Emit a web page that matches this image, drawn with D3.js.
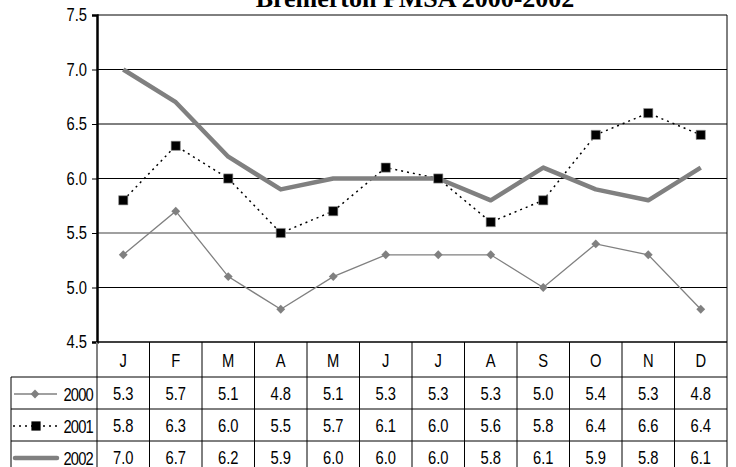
<!DOCTYPE html>
<html>
<head>
<meta charset="utf-8">
<script src="https://cdn.jsdelivr.net/npm/d3@7"></script>
<style>
  body { margin: 0; background: #fff; }
  svg { display: block; }
  text { font-family: "Liberation Sans", Arial, sans-serif; }
</style>
</head>
<body>
<div id="chart"></div>
<script>
const months = ['J', 'F', 'M', 'A', 'M', 'J', 'J', 'A', 'S', 'O', 'N', 'D'];
const s2000 = [5.3, 5.7, 5.1, 4.8, 5.1, 5.3, 5.3, 5.3, 5.0, 5.4, 5.3, 4.8];
const s2001 = [5.8, 6.3, 6.0, 5.5, 5.7, 6.1, 6.0, 5.6, 5.8, 6.4, 6.6, 6.4];
const s2002 = [7.0, 6.7, 6.2, 5.9, 6.0, 6.0, 6.0, 5.8, 6.1, 5.9, 5.8, 6.1];
const yTicks = [4.5, 5.0, 5.5, 6.0, 6.5, 7.0, 7.5];
const seriesNames = ['2000', '2001', '2002'];

const width = 736;
const height = 467;
const plotLeft = 97, plotRight = 727, plotTop = 15, plotBottom = 342;
const legendLeft = 11;
const headerH = 35, rowH = 32;
const narrow = 0.82; // no condensed font installed, squeeze text horizontally

const svg = d3.select('#chart').append('svg')
  .attr('width', width)
  .attr('height', height);

const x = d3.scaleBand()
  .domain(d3.range(months.length))
  .range([plotLeft, plotRight]);

const y = d3.scaleLinear()
  .domain([4.5, 7.5])
  .range([plotBottom, plotTop]);

const cx = i => x(i) + x.bandwidth() / 2;

// narrow text helper
function narrowText(g, tx, ty, str, anchor) {
  return g.append('text')
    .attr('transform', `translate(${tx},${ty}) scale(${narrow},1)`)
    .attr('text-anchor', anchor || 'middle')
    .style('font-size', '18px')
    .attr('fill', '#000')
    .text(str);
}

// title
svg.append('text')
  .attr('x', 415)
  .attr('y', 7)
  .attr('text-anchor', 'middle')
  .style('font-family', '"Liberation Serif", "Times New Roman", serif')
  .style('font-weight', 'bold')
  .style('font-size', '26px')
  .text('Bremerton PMSA 2000-2002');

// gridlines
svg.append('g')
  .selectAll('line')
  .data(yTicks.slice(1))
  .enter().append('line')
  .attr('x1', plotLeft).attr('x2', plotRight)
  .attr('y1', d => y(d)).attr('y2', d => y(d))
  .attr('stroke', d => d === 5.5 ? '#808080' : '#000')
  .attr('stroke-width', d => d === 5.5 ? 1.5 : 1);

// right border
svg.append('line')
  .attr('x1', plotRight).attr('x2', plotRight)
  .attr('y1', plotTop).attr('y2', plotBottom)
  .attr('stroke', '#000');

// y axis
const yAxis = d3.axisLeft(y)
  .tickValues(yTicks)
  .tickFormat(d3.format('.1f'))
  .tickSize(5)
  .tickPadding(5);

const gy = svg.append('g')
  .attr('transform', `translate(${plotLeft},0)`)
  .call(yAxis);
gy.select('.domain').attr('stroke-width', 2.5);
gy.selectAll('.tick line').attr('stroke', '#000');
gy.selectAll('text')
  .style('font-size', '18px')
  .attr('fill', '#000')
  .attr('transform', `scale(${narrow},1)`)
  .attr('x', -10 / narrow);

// lines
const line = d3.line()
  .x((d, i) => cx(i))
  .y(d => y(d));

svg.append('path')
  .datum(s2000)
  .attr('d', line)
  .attr('fill', 'none')
  .attr('stroke', '#808080')
  .attr('stroke-width', 1.3);

svg.append('path')
  .datum(s2001)
  .attr('d', line)
  .attr('fill', 'none')
  .attr('stroke', '#000')
  .attr('stroke-width', 1.5)
  .attr('stroke-dasharray', '2,4');

svg.append('path')
  .datum(s2002)
  .attr('d', line)
  .attr('fill', 'none')
  .attr('stroke', '#808080')
  .attr('stroke-width', 4.5)
  .attr('stroke-linejoin', 'round');

const diamond = d3.symbol().type(d3.symbolDiamond2).size(50);
const square = d3.symbol().type(d3.symbolSquare).size(85);

svg.append('g')
  .selectAll('path')
  .data(s2000)
  .enter().append('path')
  .attr('d', diamond)
  .attr('transform', (d, i) => `translate(${cx(i)},${y(d)})`)
  .attr('fill', '#808080');

svg.append('g')
  .selectAll('path')
  .data(s2001)
  .enter().append('path')
  .attr('d', square)
  .attr('transform', (d, i) => `translate(${cx(i)},${y(d)})`)
  .attr('fill', '#000')
  .attr('stroke', '#999')
  .attr('stroke-width', 0.6);

// data table
const table = svg.append('g');
const rowsTop = plotBottom + headerH;

months.forEach((m, i) => {
  narrowText(table, cx(i), plotBottom + headerH / 2 + 7, m);
});

// column lines
table.selectAll('.col')
  .data(d3.range(months.length + 1))
  .enter().append('line')
  .attr('x1', d => d === months.length ? plotRight : x(d))
  .attr('x2', d => d === months.length ? plotRight : x(d))
  .attr('y1', plotBottom)
  .attr('y2', height)
  .attr('stroke', d => d === 0 ? '#808080' : '#000')
  .attr('stroke-width', d => d === 0 ? 2 : 1);

// row lines
table.selectAll('.row')
  .data(d3.range(3))
  .enter().append('line')
  .attr('x1', legendLeft)
  .attr('x2', plotRight)
  .attr('y1', d => rowsTop + d * rowH)
  .attr('y2', d => rowsTop + d * rowH)
  .attr('stroke', '#000')
  .attr('stroke-width', 1);

table.append('line')
  .attr('x1', legendLeft).attr('x2', legendLeft)
  .attr('y1', rowsTop).attr('y2', height)
  .attr('stroke', '#000');

// bottom axis line at 4.5
svg.append('line')
  .attr('x1', plotLeft).attr('x2', plotRight)
  .attr('y1', plotBottom).attr('y2', plotBottom)
  .attr('stroke', '#000')
  .attr('stroke-width', 1.5);

const seriesData = [s2000, s2001, s2002];
seriesData.forEach((s, r) => {
  const cy = rowsTop + r * rowH + rowH / 2;
  s.forEach((v, i) => {
    narrowText(table, cx(i), cy + 7, v.toFixed(1));
  });
  narrowText(table, 93, cy + 8, seriesNames[r], 'end')
    .style('letter-spacing', '-1px');
});

// legend keys
const ky = r => rowsTop + r * rowH + rowH / 2 + 1;
table.append('line')
  .attr('x1', 14).attr('x2', 57)
  .attr('y1', ky(0)).attr('y2', ky(0))
  .attr('stroke', '#808080').attr('stroke-width', 1.3);
table.append('path')
  .attr('d', diamond)
  .attr('transform', `translate(35,${ky(0)})`)
  .attr('fill', '#808080');

table.append('line')
  .attr('x1', 13).attr('x2', 58)
  .attr('y1', ky(1)).attr('y2', ky(1))
  .attr('stroke', '#000').attr('stroke-width', 1.5)
  .attr('stroke-dasharray', '2,4');
table.append('path')
  .attr('d', square)
  .attr('transform', `translate(36,${ky(1)})`)
  .attr('fill', '#000');

table.append('line')
  .attr('x1', 15).attr('x2', 57)
  .attr('y1', ky(2)).attr('y2', ky(2))
  .attr('stroke', '#808080').attr('stroke-width', 4.5)
  .attr('stroke-linecap', 'round');
</script>
</body>
</html>
